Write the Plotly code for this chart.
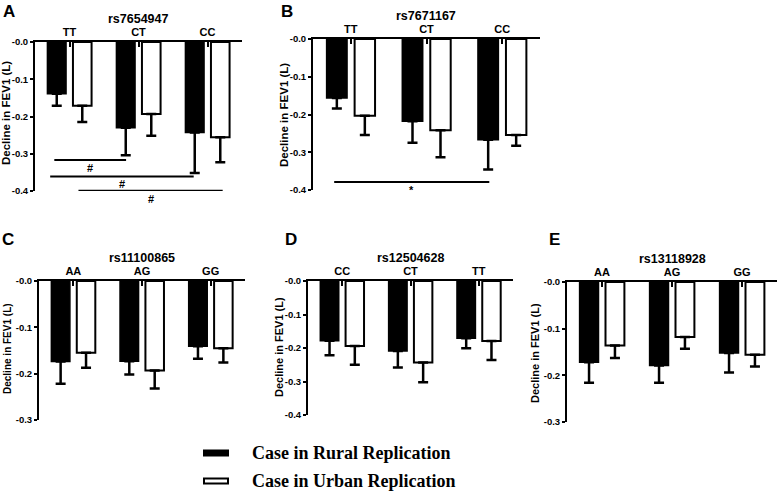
import plotly.graph_objects as go

W, H = 778, 494

# ---------------- data ----------------
snp_A = "rs7654947"
cats_A = ["TT", "CT", "CC"]
rural_A = [-0.139, -0.230, -0.243]
rural_err_A = [0.032, 0.074, 0.109]
urban_A = [-0.171, -0.193, -0.256]
urban_err_A = [0.044, 0.059, 0.067]

snp_B = "rs7671167"
cats_B = ["TT", "CT", "CC"]
rural_B = [-0.156, -0.218, -0.267]
rural_err_B = [0.028, 0.057, 0.079]
urban_B = [-0.203, -0.242, -0.254]
urban_err_B = [0.051, 0.071, 0.029]

snp_C = "rs11100865"
cats_C = ["AA", "AG", "GG"]
rural_C = [-0.174, -0.173, -0.141]
rural_err_C = [0.048, 0.029, 0.027]
urban_C = [-0.155, -0.193, -0.145]
urban_err_C = [0.032, 0.039, 0.031]

snp_D = "rs12504628"
cats_D = ["CC", "CT", "TT"]
rural_D = [-0.178, -0.209, -0.171]
rural_err_D = [0.044, 0.049, 0.030]
urban_D = [-0.194, -0.243, -0.179]
urban_err_D = [0.056, 0.059, 0.057]

snp_E = "rs13118928"
cats_E = ["AA", "AG", "GG"]
rural_E = [-0.172, -0.179, -0.152]
rural_err_E = [0.044, 0.037, 0.042]
urban_E = [-0.136, -0.118, -0.156]
urban_err_E = [0.027, 0.025, 0.025]

y_ticks_04 = [0, -0.1, -0.2, -0.3, -0.4]
y_ticks_03 = [0, -0.1, -0.2, -0.3]
y_ticktext = ["-0.0", "-0.1", "-0.2", "-0.3", "-0.4"]

# significance brackets: (x_start, x_end, y_level, label)
sig_A = [(-0.22, 0.82, -0.317, "#"), (-0.28, 1.80, -0.361, "#"), (0.13, 2.22, -0.399, "#")]
sig_B = [(-0.22, 1.83, -0.379, "*")]

series_names = ["Case in Rural Replication", "Case in Urban Replication"]
y_title = "Decline in FEV1 (L)"

# ---------------- layout geometry (pixels) ----------------
panels = [
    dict(letter="A", snp=snp_A, cats=cats_A, r=rural_A, re=rural_err_A, u=urban_A, ue=urban_err_A,
         px=(35, 242), py=(42, 191), ymin=-0.4, lpos=(9, 11), tpos=(6, 113), tsize=11.5, sig=sig_A),
    dict(letter="B", snp=snp_B, cats=cats_B, r=rural_B, re=rural_err_B, u=urban_B, ue=urban_err_B,
         px=(313, 540), py=(39, 190), ymin=-0.4, lpos=(287, 11), tpos=(284, 115), tsize=11.5, sig=sig_B),
    dict(letter="C", snp=snp_C, cats=cats_C, r=rural_C, re=rural_err_C, u=urban_C, ue=urban_err_C,
         px=(39, 245), py=(281, 420), ymin=-0.3, lpos=(8, 239), tpos=(7, 349), tsize=10, sig=[]),
    dict(letter="D", snp=snp_D, cats=cats_D, r=rural_D, re=rural_err_D, u=urban_D, ue=urban_err_D,
         px=(308, 513), py=(281, 415), ymin=-0.4, lpos=(291, 239), tpos=(279, 347), tsize=11, sig=[]),
    dict(letter="E", snp=snp_E, cats=cats_E, r=rural_E, re=rural_err_E, u=urban_E, ue=urban_err_E,
         px=(567, 777), py=(282, 422), ymin=-0.3, lpos=(554, 239), tpos=(535, 353), tsize=11, sig=[]),
]

def fx(x):
    return x / W

def fy(y):
    return 1 - y / H

SANS = "Arial, Liberation Sans, sans-serif"
SERIF = "Times New Roman, Liberation Serif, serif"

fig = go.Figure()
layout = dict(
    width=W, height=H, autosize=False,
    margin=dict(l=0, r=0, t=0, b=0, autoexpand=False),
    paper_bgcolor="white", plot_bgcolor="white",
    barmode="overlay", showlegend=False,
    annotations=[], shapes=[],
)

BAR_W = 0.27
for i, p in enumerate(panels):
    n = "" if i == 0 else str(i + 1)
    xa, ya = "x" + n, "y" + n
    xs = list(range(len(p["cats"])))
    fig.add_trace(go.Bar(
        x=xs, y=p["r"], xaxis=xa, yaxis=ya, name=series_names[0],
        width=BAR_W, offset=-0.32,
        marker=dict(color="black", line=dict(color="black", width=1.5)),
        error_y=dict(type="data", symmetric=False, array=[0] * len(xs), arrayminus=p["re"],
                     color="black", thickness=2.5, width=5),
    ))
    fig.add_trace(go.Bar(
        x=xs, y=p["u"], xaxis=xa, yaxis=ya, name=series_names[1],
        width=BAR_W, offset=0.05,
        marker=dict(color="white", line=dict(color="black", width=2)),
        error_y=dict(type="data", symmetric=False, array=[0] * len(xs), arrayminus=p["ue"],
                     color="black", thickness=2.5, width=5),
    ))
    yt = y_ticks_04 if p["ymin"] == -0.4 else y_ticks_03
    layout["xaxis" + n] = dict(
        domain=[fx(p["px"][0]), fx(p["px"][1])], anchor=ya, side="top", automargin=False,
        range=[-0.5, 2.5], tickmode="array", tickvals=xs, ticktext=p["cats"],
        ticks="inside", ticklen=5, tickwidth=1.5, tickcolor="black",
        showline=True, linecolor="black", linewidth=2, showgrid=False, zeroline=False,
        tickfont=dict(family=SANS, size=11, color="black", weight="bold"),
        ticklabelstandoff=0,
    )
    layout["yaxis" + n] = dict(
        domain=[fy(p["py"][1]), fy(p["py"][0])], anchor=xa, automargin=False,
        range=[p["ymin"], 0], tickmode="array", tickvals=yt, ticktext=y_ticktext[:len(yt)],
        ticks="outside", ticklen=3, tickwidth=1.5, tickcolor="black",
        showline=True, linecolor="black", linewidth=2, showgrid=False, zeroline=False,
        tickfont=dict(family=SANS, size=9.5, color="black", weight="bold"),
    )
    layout["annotations"].append(dict(
        x=fx(p["lpos"][0]), y=fy(p["lpos"][1]), xref="paper", yref="paper",
        text="<b>" + p["letter"] + "</b>", showarrow=False, xanchor="center", yanchor="middle",
        font=dict(family=SANS, size=17, color="black"),
    ))
    layout["annotations"].append(dict(
        x=fx((p["px"][0] + p["px"][1]) / 2), y=fy(p["py"][0] - 23), xref="paper", yref="paper",
        text="<b>" + p["snp"] + "</b>", showarrow=False, xanchor="center", yanchor="middle",
        font=dict(family=SANS, size=12.5, color="black"),
    ))
    layout["annotations"].append(dict(
        x=fx(p["tpos"][0]), y=fy(p["tpos"][1]), xref="paper", yref="paper",
        text="<b>" + y_title + "</b>", showarrow=False, textangle=-90,
        xanchor="center", yanchor="middle",
        font=dict(family=SANS, size=p["tsize"], color="black"),
    ))
    for (s0, s1, lvl, lab) in p["sig"]:
        layout["shapes"].append(dict(
            type="line", xref=xa, yref=ya, x0=s0, x1=s1, y0=lvl, y1=lvl,
            line=dict(color="black", width=2),
        ))
        layout["annotations"].append(dict(
            x=(s0 + s1) / 2, y=lvl, xref=xa, yref=ya, text="<b>" + lab + "</b>",
            showarrow=False, xanchor="center", yanchor="middle", yshift=-8,
            font=dict(family=SANS, size=11, color="black"),
        ))

legend_rows = [(453, "black", series_names[0]), (481, "white", series_names[1])]
for (yy, col, name) in legend_rows:
    layout["shapes"].append(dict(
        type="rect", xref="paper", yref="paper",
        x0=fx(204), x1=fx(228), y0=fy(yy + 2.5), y1=fy(yy - 2.5),
        fillcolor=col, line=dict(color="black", width=2),
    ))
    layout["annotations"].append(dict(
        x=fx(250), y=fy(yy), xref="paper", yref="paper", text="<b>" + name + "</b>",
        showarrow=False, xanchor="left", yanchor="middle",
        font=dict(family=SERIF, size=18, color="black"),
    ))

fig.update_layout(**layout)
fig.write_html("out.html", config={"displayModeBar": False},
               post_script="document.body.style.margin='0';")
